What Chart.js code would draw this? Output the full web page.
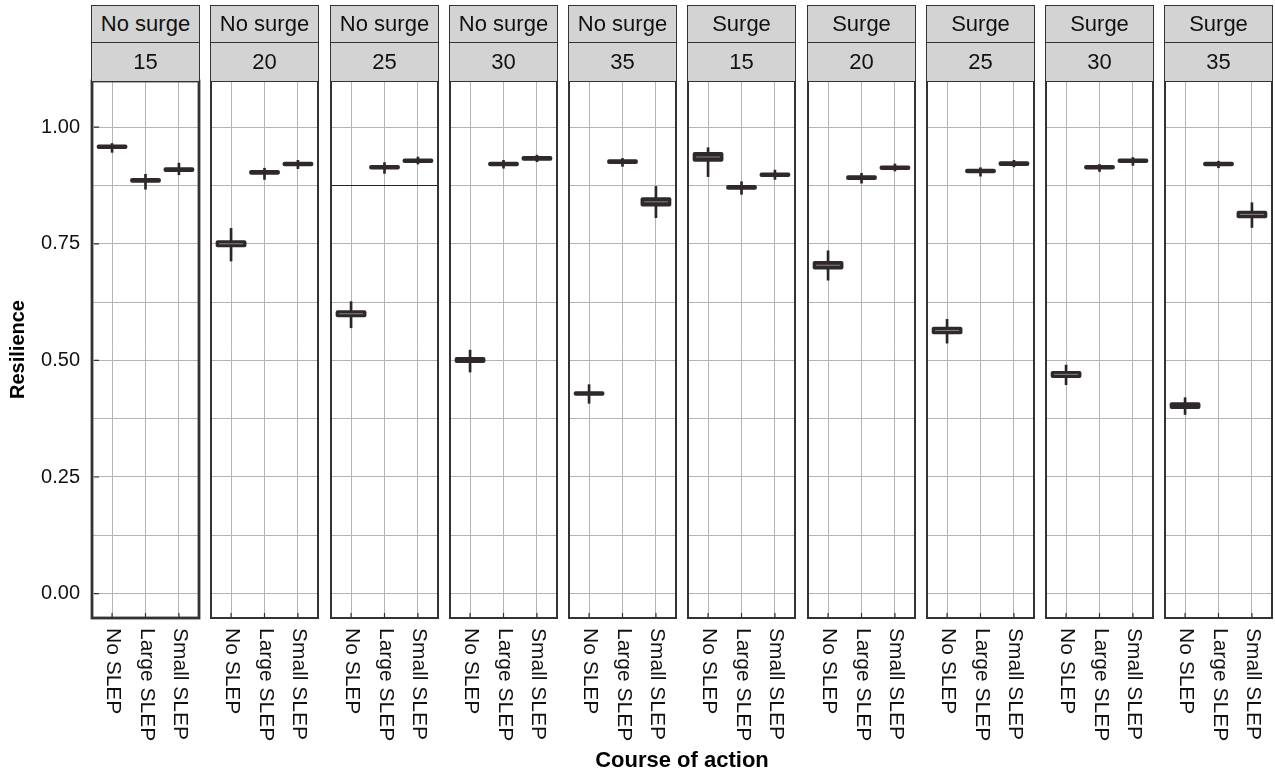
<!DOCTYPE html>
<html>
<head>
<meta charset="utf-8">
<script src="https://cdn.jsdelivr.net/npm/chart.js@4.4.0/dist/chart.umd.min.js"></script>
<style>
  body { margin: 0; background: #fff; width: 1275px; height: 775px; overflow: hidden; position: relative;
         font-family: "Liberation Sans", Arial, Helvetica, sans-serif; }
  canvas { position: absolute; }
  .strip { position: absolute; background: #d3d3d3; border: 1.5px solid #333; box-sizing: border-box;
           text-align: center; font-size: 22px; color: #111; }
  .xtitle { position: absolute; left: 482px; width: 400px; top: 748px; line-height: 24px;
            text-align: center; font-size: 22px; font-weight: bold; color: #000; }
</style>
</head>
<body>
<div class="xtitle">Course of action</div>
<script>
// categories and facet labels
const categories = ["No SLEP", "Large SLEP", "Small SLEP"];
const surgeLabels = ["No surge", "No surge", "No surge", "No surge", "No surge",
                     "Surge", "Surge", "Surge", "Surge", "Surge"];
const sizeLabels = ["15", "20", "25", "30", "35", "15", "20", "25", "30", "35"];
const yTickValues = [0, 0.25, 0.5, 0.75, 1.0];
const yMinorValues = [0.125, 0.375, 0.625, 0.875];

// box plot stats, one row per panel: [No SLEP, Large SLEP, Small SLEP]
const medians = [
  [0.958, 0.886, 0.909],
  [0.750, 0.903, 0.921],
  [0.600, 0.914, 0.928],
  [0.501, 0.921, 0.933],
  [0.429, 0.926, 0.840],
  [0.936, 0.871, 0.898],
  [0.704, 0.892, 0.913],
  [0.564, 0.906, 0.922],
  [0.470, 0.914, 0.928],
  [0.403, 0.921, 0.813],
];
const q1 = [
  [0.953, 0.881, 0.904],
  [0.7425, 0.898, 0.916],
  [0.5925, 0.909, 0.923],
  [0.4945, 0.916, 0.928],
  [0.424, 0.921, 0.830],
  [0.926, 0.866, 0.893],
  [0.695, 0.887, 0.908],
  [0.556, 0.901, 0.917],
  [0.4625, 0.909, 0.923],
  [0.396, 0.916, 0.805],
];
const q3 = [
  [0.963, 0.891, 0.914],
  [0.7575, 0.908, 0.926],
  [0.6075, 0.919, 0.933],
  [0.5075, 0.926, 0.938],
  [0.434, 0.931, 0.850],
  [0.947, 0.876, 0.903],
  [0.713, 0.897, 0.918],
  [0.572, 0.911, 0.927],
  [0.4775, 0.919, 0.933],
  [0.410, 0.926, 0.821],
];
const whiskLo = [
  [0.946, 0.867, 0.898],
  [0.713, 0.888, 0.911],
  [0.570, 0.901, 0.921],
  [0.475, 0.912, 0.926],
  [0.408, 0.916, 0.806],
  [0.894, 0.856, 0.888],
  [0.672, 0.880, 0.906],
  [0.537, 0.895, 0.915],
  [0.448, 0.905, 0.918],
  [0.384, 0.913, 0.785],
];
const whiskHi = [
  [0.965, 0.899, 0.923],
  [0.783, 0.912, 0.929],
  [0.626, 0.924, 0.936],
  [0.522, 0.929, 0.940],
  [0.448, 0.933, 0.873],
  [0.956, 0.883, 0.908],
  [0.735, 0.901, 0.921],
  [0.588, 0.913, 0.929],
  [0.490, 0.920, 0.935],
  [0.420, 0.927, 0.838],
];

Chart.defaults.font.family = '"Liberation Sans", Arial, Helvetica, sans-serif';
Chart.defaults.color = "#111";

const firstLeft = 92, pitch = 119.25, panelW = 107;
const plotTop = 81, plotBottom = 618, pad = 4, padTop = 30;
const gridColor = "#b4b4b4";
const boxFill = "#2f292a";

// frame around each panel plus small inward ticks
const framePlugin = {
  id: "frame",
  afterDraw(chart, args, opts) {
    const { ctx, chartArea, scales } = chart;
    const { left, top, right, bottom } = chartArea;
    ctx.save();
    ctx.strokeStyle = "#333";
    ctx.lineWidth = opts.width;
    ctx.strokeRect(left, top, right - left, bottom - top);
    ctx.lineWidth = 1.2;
    ctx.beginPath();
    categories.forEach((c, j) => {
      const px = scales.x.getPixelForValue(j + 1);
      ctx.moveTo(px, bottom - 5);
      ctx.lineTo(px, bottom);
    });
    if (opts.yTicks) {
      yTickValues.forEach(v => {
        const py = scales.y.getPixelForValue(v);
        ctx.moveTo(left + 2, py);
        ctx.lineTo(left + 7, py);
      });
    }
    ctx.stroke();
    ctx.restore();
  }
};

// rotated category labels, reading top to bottom
const xLabelPlugin = {
  id: "xLabels",
  afterDraw(chart) {
    const { ctx, chartArea, scales } = chart;
    ctx.save();
    ctx.font = '21px "Liberation Sans", Arial, Helvetica, sans-serif';
    ctx.fillStyle = "#111";
    ctx.textAlign = "left";
    ctx.textBaseline = "middle";
    categories.forEach((c, j) => {
      const px = scales.x.getPixelForValue(j + 1);
      ctx.save();
      ctx.translate(px + 1, chartArea.bottom + 10);
      ctx.rotate(Math.PI / 2);
      ctx.fillText(c, 0, 0);
      ctx.restore();
    });
    ctx.restore();
  }
};

for (let i = 0; i < 10; i++) {
  const panelLeft = Math.round(firstLeft + i * pitch);

  // strips
  const s1 = document.createElement("div");
  s1.className = "strip";
  Object.assign(s1.style, { left: (panelLeft - 1) + "px", width: (panelW + 2) + "px",
    top: "5px", height: "38.5px", lineHeight: "35.5px" });
  s1.textContent = surgeLabels[i];
  document.body.appendChild(s1);
  const s2 = document.createElement("div");
  s2.className = "strip";
  Object.assign(s2.style, { left: (panelLeft - 1) + "px", width: (panelW + 2) + "px",
    top: "42px", height: "40px", lineHeight: "37px" });
  s2.textContent = sizeLabels[i];
  document.body.appendChild(s2);

  const canvas = document.createElement("canvas");
  const canvasLeft = i === 0 ? 0 : panelLeft - pad;
  const canvasTop = plotTop - padTop;
  canvas.width = panelLeft + panelW + pad - canvasLeft;
  canvas.height = 775 - canvasTop;
  canvas.style.left = canvasLeft + "px";
  canvas.style.top = canvasTop + "px";
  document.body.insertBefore(canvas, document.body.firstChild);

  const boxData = categories.map((c, j) => ({ x: j + 1, y: [q1[i][j], q3[i][j]] }));
  const whiskData = categories.map((c, j) => ({ x: j + 1, y: [whiskLo[i][j], whiskHi[i][j]] }));
  const medData = categories.map((c, j) => ({ x: j + 1, y: medians[i][j] }));

  new Chart(canvas, {
    type: "bar",
    data: {
      datasets: [
        {
          label: "box",
          data: boxData,
          backgroundColor: boxFill,
          borderWidth: 0,
          borderRadius: 2,
          borderSkipped: false,
          barPercentage: 0.92,
          categoryPercentage: 1,
          grouped: false,
          order: 1,
        },
        {
          label: "whisker",
          data: whiskData,
          backgroundColor: "#2b2526",
          barThickness: 2,
          grouped: false,
          order: 2,
        },
        {
          type: "line",
          label: "median",
          data: medData,
          showLine: false,
          pointStyle: "line",
          pointRadius: 12,
          pointBorderWidth: 1,
          pointBorderColor: ctx => (q3[i][ctx.dataIndex] - q1[i][ctx.dataIndex] > 0.0145 ? "#8a8485" : boxFill),
          order: 0,
        },
      ],
    },
    options: {
      responsive: false,
      animation: false,
      events: [],
      layout: {
        autoPadding: false,
        padding: { left: i === 0 ? 0 : pad, right: pad, top: padTop, bottom: 775 - plotBottom },
      },
      plugins: {
        legend: { display: false },
        tooltip: { enabled: false },
        frame: { width: i === 0 ? 2.8 : 2, yTicks: i === 0 },
      },
      scales: {
        x: {
          type: "linear",
          min: 0.4,
          max: 3.6,
          offset: false,
          afterBuildTicks: s => { s.ticks = categories.map((c, j) => ({ value: j + 1 })); },
          afterFit: s => { s.height = 0; },
          ticks: { display: false },
          grid: { color: gridColor, drawTicks: false, offset: false },
          border: { display: false },
        },
        y: {
          min: -0.0523,
          max: 1.099,
          afterBuildTicks: s => {
            s.ticks = yTickValues.concat(yMinorValues).sort((a, b) => a - b).map(v => ({ value: v }));
          },
          afterFit: s => { s.width = i === 0 ? panelLeft : 0; },
          ticks: {
            display: i === 0,
            padding: 12,
            font: { size: 20 },
            color: "#111",
            callback: v => (yTickValues.includes(v) ? v.toFixed(2) : ""),
          },
          grid: {
            drawTicks: false,
            color: ctx => (i === 2 && ctx.tick && ctx.tick.value === 0.875 ? "#222" : gridColor),
          },
          border: { display: false },
          title: {
            display: i === 0,
            text: "Resilience",
            font: { size: 20, weight: "bold" },
            color: "#000",
            padding: { top: 6 },
          },
        },
      },
    },
    plugins: [framePlugin, xLabelPlugin],
  });
}
</script>
</body>
</html>
